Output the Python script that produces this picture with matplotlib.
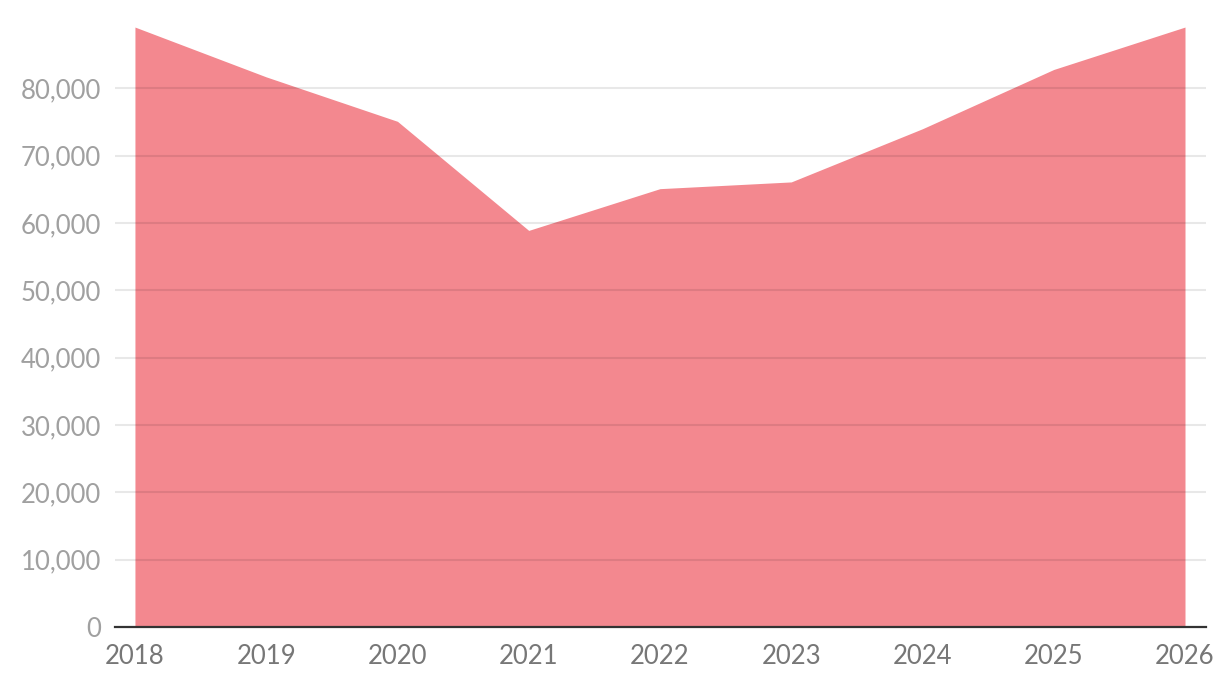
import matplotlib
matplotlib.use("Agg")
import matplotlib.pyplot as plt
from matplotlib.ticker import FuncFormatter

years = [2018, 2019, 2020, 2021, 2022, 2023, 2024, 2025, 2026]
values = [89100, 81700, 75100, 58900, 65100, 66100, 74000, 82800, 89100]
y_ticks = [0, 10000, 20000, 30000, 40000, 50000, 60000, 70000, 80000]

plt.rcParams['font.family'] = ['Lato', 'DejaVu Sans']

fig = plt.figure(figsize=(12.32, 6.94), dpi=100)
ax = fig.add_axes([115/1232, 1 - 627/694, (1206 - 115)/1232, (627 - 21)/694])

ax.fill_between(years, values, 0, color='#f3888f', linewidth=0, zorder=1)

ax.set_xlim(2017.848, 2026.16)
ax.set_ylim(0, 90000)
ax.set_yticks(y_ticks)
ax.set_xticks(years)
ax.yaxis.set_major_formatter(FuncFormatter(lambda v, p: f"{int(v):,}"))

for t in y_ticks[1:]:
    ax.axhline(t, color='black', alpha=0.09, linewidth=1.5, zorder=2)

for s in ['top', 'right', 'left']:
    ax.spines[s].set_visible(False)
ax.spines['bottom'].set_color('#333333')
ax.spines['bottom'].set_linewidth(1.6)
ax.spines['bottom'].set_zorder(3)

ax.tick_params(axis='y', length=0, pad=10, labelsize=18.5, labelcolor='#a0a0a0')
ax.tick_params(axis='x', length=0, pad=12, labelsize=18.5, labelcolor='#777777')

fig.savefig('out.png', dpi=100, facecolor='white')
